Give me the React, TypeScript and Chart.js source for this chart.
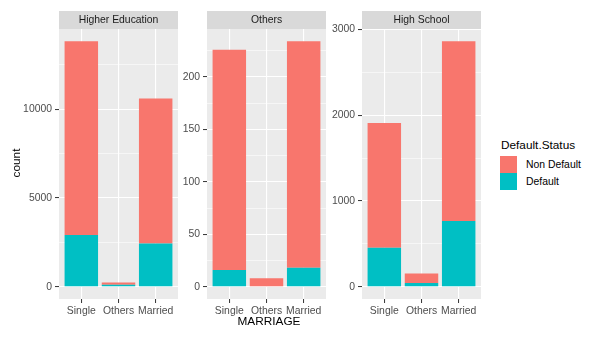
import React, { useEffect, useRef } from "react";
import { Chart, registerables } from "chart.js";

Chart.register(...registerables);

// ---- Data ----
const categories = ["Single", "Others", "Married"];
const educationPanels = ["Higher Education", "Others", "High School"];

const nonDefaultHigherEd = [10914, 130, 8156];
const defaultHigherEd = [2914, 110, 2441];

const nonDefaultOthers = [210, 8, 216];
const defaultOthers = [16, 0, 18];

const nonDefaultHighSchool = [1455, 112, 2096];
const defaultHighSchool = [455, 43, 766];

const majorTickSteps = [5000, 50, 1000];

const nonDefaultSeries = [nonDefaultHigherEd, nonDefaultOthers, nonDefaultHighSchool];
const defaultSeries = [defaultHigherEd, defaultOthers, defaultHighSchool];

const legendLabels = ["Non Default", "Default"];
const legendColors = ["#F8766D", "#00BFC4"];
const legendTitle = "Default.Status";
const xTitle = "MARRIAGE";
const yTitle = "count";

// ---- Layout ----
const FONT = '"Liberation Sans", Arial, sans-serif';
const PANEL_LEFTS = [59, 207, 362];
const PLOT_W = 119;
const PLOT_H = 270;
const STRIP_TOP = 11;
const STRIP_H = 18;
const Y_W = 46;
const X_H = 24;
const RIGHT_PAD = 14;

const panelPlugin = {
  id: "panelBg",
  beforeDraw(chart: any, _args: any, opts: any) {
    const { ctx, chartArea: a } = chart;
    ctx.save();
    ctx.fillStyle = "#EBEBEB";
    ctx.fillRect(a.left, a.top, a.right - a.left, a.bottom - a.top);
    ctx.fillStyle = "#D9D9D9";
    ctx.fillRect(a.left, a.top - STRIP_H, a.right - a.left, STRIP_H);
    ctx.fillStyle = "#1A1A1A";
    ctx.font = `10.4px ${FONT}`;
    ctx.textAlign = "center";
    ctx.textBaseline = "middle";
    ctx.fillText(opts.title, (a.left + a.right) / 2, a.top - STRIP_H / 2 + 0.5);
    ctx.restore();
  },
};

function makeChart(canvas: HTMLCanvasElement, p: number) {
  const nd = nonDefaultSeries[p];
  const df = defaultSeries[p];
  const totals = nd.map((v, i) => v + df[i]);
  const maxTotal = Math.max(...totals);
  const yMin = -0.05 * maxTotal;
  const yMax = 1.05 * maxTotal;
  const step = majorTickSteps[p];
  const minor = step / 2;
  const isMajor = (v: number) => Math.abs(v % step) < 1e-9;

  return new Chart(canvas, {
    type: "bar",
    data: {
      datasets: [
        {
          label: legendLabels[1],
          data: df.map((v, i) => ({ x: i + 1, y: v })),
          backgroundColor: legendColors[1],
          borderWidth: 0,
          barPercentage: 0.9,
          categoryPercentage: 1,
        },
        {
          label: legendLabels[0],
          data: nd.map((v, i) => ({ x: i + 1, y: v })),
          backgroundColor: legendColors[0],
          borderWidth: 0,
          barPercentage: 0.9,
          categoryPercentage: 1,
        },
      ],
    },
    options: {
      animation: false,
      responsive: false,
      maintainAspectRatio: false,
      layout: {
        autoPadding: false,
        padding: { top: STRIP_H, left: 0, right: RIGHT_PAD, bottom: 0 },
      },
      plugins: {
        legend: { display: false },
        tooltip: { enabled: false },
        panelBg: { title: educationPanels[p] },
      } as any,
      scales: {
        x: {
          type: "linear",
          stacked: true,
          offset: false,
          min: 0.4,
          max: categories.length + 0.6,
          afterBuildTicks: (s: any) => {
            s.ticks = categories.map((_, i) => ({ value: i + 1 }));
          },
          afterFit: (s: any) => {
            s.height = X_H;
          },
          ticks: {
            autoSkip: false,
            maxRotation: 0,
            padding: 2,
            color: "#4D4D4D",
            font: { family: FONT, size: 10.4 },
            callback: (v: any) => categories[Math.round(Number(v)) - 1] ?? "",
          },
          grid: {
            color: "#FFFFFF",
            lineWidth: 1.1,
            tickColor: "#333333",
            tickLength: 4,
            tickWidth: 1,
            offset: false,
          },
          border: { display: false },
        },
        y: {
          type: "linear",
          stacked: true,
          min: yMin,
          max: yMax,
          afterBuildTicks: (s: any) => {
            const ticks = [];
            for (let v = Math.ceil(yMin / minor) * minor; v <= yMax; v += minor) {
              ticks.push({ value: v });
            }
            s.ticks = ticks;
          },
          afterFit: (s: any) => {
            s.width = Y_W;
          },
          ticks: {
            autoSkip: false,
            padding: 3,
            color: "#4D4D4D",
            font: { family: FONT, size: 10.4 },
            callback: (v: any) => (isMajor(Number(v)) ? String(Math.round(Number(v))) : ""),
          },
          grid: {
            color: "#FFFFFF",
            lineWidth: (c: any) => (c.tick && isMajor(c.tick.value) ? 1.1 : 0.55),
            tickColor: (c: any) =>
              c.tick && isMajor(c.tick.value) ? "#333333" : "rgba(0,0,0,0)",
            tickLength: 4,
            tickWidth: 1,
          },
          border: { display: false },
        },
      },
    } as any,
    plugins: [panelPlugin as any],
  });
}

export default function App() {
  const refs = [
    useRef<HTMLCanvasElement>(null),
    useRef<HTMLCanvasElement>(null),
    useRef<HTMLCanvasElement>(null),
  ];

  useEffect(() => {
    const charts = refs.map((r, p) => makeChart(r.current as HTMLCanvasElement, p));
    return () => charts.forEach((c) => c.destroy());
  }, []);

  const cw = Y_W + PLOT_W + RIGHT_PAD;
  const ch = STRIP_H + PLOT_H + X_H;

  return (
    <div
      style={{
        position: "fixed",
        left: 0,
        top: 0,
        width: 600,
        height: 337,
        background: "#FFFFFF",
        overflow: "hidden",
        fontFamily: FONT,
      }}
    >
      {PANEL_LEFTS.map((left, p) => (
        <canvas
          key={p}
          ref={refs[p]}
          width={cw}
          height={ch}
          style={{
            position: "absolute",
            left: left - Y_W,
            top: STRIP_TOP,
            width: cw,
            height: ch,
          }}
        />
      ))}
      <div
        style={{
          position: "absolute",
          left: 16 - 30,
          top: 163 - 8,
          width: 60,
          height: 16,
          lineHeight: "16px",
          textAlign: "center",
          fontSize: 11.8,
          color: "#000",
          transform: "rotate(-90deg)",
        }}
      >
        {yTitle}
      </div>
      <div
        style={{
          position: "absolute",
          left: 269 - 60,
          top: 321 - 8,
          width: 120,
          height: 16,
          lineHeight: "16px",
          textAlign: "center",
          fontSize: 11.8,
          color: "#000",
        }}
      >
        {xTitle}
      </div>
      <div
        style={{
          position: "absolute",
          left: 501,
          top: 145 - 8,
          height: 16,
          lineHeight: "16px",
          fontSize: 11.8,
          color: "#000",
          whiteSpace: "nowrap",
        }}
      >
        {legendTitle}
      </div>
      {legendLabels.map((lab, i) => (
        <React.Fragment key={lab}>
          <div
            style={{
              position: "absolute",
              left: 500,
              top: 156 + i * 17.3,
              width: 17,
              height: 17,
              background: legendColors[i],
            }}
          />
          <div
            style={{
              position: "absolute",
              left: 526,
              top: 164.5 + i * 17.3 - 7,
              height: 14,
              lineHeight: "14px",
              fontSize: 10.4,
              color: "#000",
              whiteSpace: "nowrap",
            }}
          >
            {lab}
          </div>
        </React.Fragment>
      ))}
    </div>
  );
}
